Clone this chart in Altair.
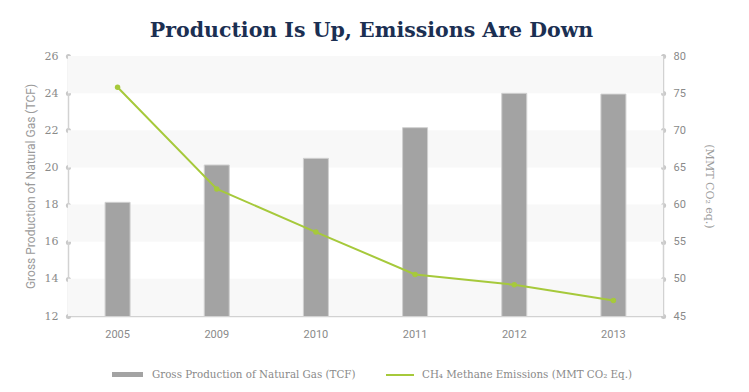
import altair as alt
import pandas as pd

years = ["2005", "2009", "2010", "2011", "2012", "2013"]
production = [18.12, 20.13, 20.49, 22.14, 23.99, 23.95]
methane = [75.8, 62.1, 56.3, 50.6, 49.2, 47.1]
band_starts = [12, 16, 20, 24]
band_size = 2
left_ticks = [12, 14, 16, 18, 20, 22, 24, 26]
right_ticks = [45, 50, 55, 60, 65, 70, 75, 80]

prod_name = "Gross Production of Natural Gas (TCF)"
meth_name = "CH\u2084 Methane Emissions (MMT CO\u2082 Eq.)"

df = pd.DataFrame({"year": years, "production": production, "methane": methane,
                   "s1": prod_name, "s2": meth_name})
bands = pd.DataFrame({"y0": band_starts, "y1": [b + band_size for b in band_starts]})

GRAY_BAR = "#a3a3a3"
GREEN = "#a6c93b"
AXIS_C = "#d2d2d2"
LABEL_C = "#8a8a8a"

xenc = alt.X("year:N", sort=years, title=None,
             scale=alt.Scale(paddingInner=0, paddingOuter=0),
             axis=alt.Axis(labelAngle=0, ticks=False, domainColor=AXIS_C, domainWidth=1.5,
                           labelColor=LABEL_C, labelFont="Roboto", labelFontSize=11,
                           labelPadding=12))

yscale = alt.Scale(domain=[12, 26], nice=False, zero=False)
left_axis = alt.Axis(values=left_ticks, grid=False,
                     domainColor=AXIS_C, domainWidth=1.5,
                     tickSize=0.1, tickWidth=5, tickCap="round", tickColor="#c8c8c8",
                     labelColor=LABEL_C, labelFont="DejaVu Serif", labelFontSize=11,
                     labelPadding=10,
                     title=prod_name, titleColor="#9a9a9a", titleFont="Roboto",
                     titleFontSize=12, titleFontWeight="normal",
                     titleX=-38, titleY=130, titleBaseline="middle", titleAngle=-90,
                     titleAlign="center")

band_layer = alt.Chart(bands).mark_rect(color="#f8f8f8").encode(
    y=alt.Y("y0:Q", scale=yscale, axis=left_axis),
    y2="y1:Q",
    x=alt.value(0), x2=alt.value(595),
)

bar_layer = alt.Chart(df).mark_bar(size=25, stroke="#d0d0d0", strokeWidth=1, clip=True).encode(
    x=xenc,
    y=alt.Y("production:Q", scale=yscale, axis=left_axis),
    fill=alt.Fill("s1:N", scale=alt.Scale(domain=[prod_name], range=[GRAY_BAR]),
                  legend=alt.Legend(title=None, orient="none", legendX=44, legendY=303,
                                    symbolType="M-1,-0.16L1,-0.16L1,0.16L-1,0.16Z",
                                    symbolSize=961, symbolStrokeWidth=0,
                                    labelFont="DejaVu Serif", labelFontSize=10.3,
                                    labelColor=LABEL_C, labelOffset=9, padding=0,
                                    labelLimit=400)),
)

y2scale = alt.Scale(domain=[45, 80], nice=False, zero=False)
right_axis = alt.Axis(orient="right", values=right_ticks, grid=False,
                      domainColor=AXIS_C, domainWidth=1.5,
                      tickSize=0.1, tickWidth=5, tickCap="round", tickColor="#c8c8c8",
                      labelColor=LABEL_C, labelFont="Roboto", labelFontSize=11,
                      labelPadding=10,
                      title="(MMT CO\u2082 eq.)", titleColor="#9a9a9a", titleFont="DejaVu Serif",
                      titleFontSize=11, titleFontWeight="normal",
                      titleX=45, titleY=130, titleBaseline="middle", titleAngle=90,
                      titleAlign="center")

line_layer = alt.Chart(df).mark_line(strokeWidth=2).encode(
    x=xenc,
    y=alt.Y("methane:Q", scale=y2scale, axis=right_axis),
    stroke=alt.Stroke("s2:N", scale=alt.Scale(domain=[meth_name], range=[GREEN]),
                      legend=alt.Legend(title=None, orient="none", legendX=317, legendY=304,
                                        symbolType="stroke", symbolSize=784,
                                        symbolStrokeWidth=2,
                                        labelFont="DejaVu Serif", labelFontSize=10.3,
                                        labelColor=LABEL_C, labelOffset=7, padding=0,
                                        labelLimit=400)),
)

point_layer = alt.Chart(df).mark_circle(size=30, color=GREEN, opacity=1).encode(
    x=xenc,
    y=alt.Y("methane:Q", scale=y2scale, axis=right_axis),
)

left = alt.layer(band_layer, bar_layer)
right = alt.layer(line_layer, point_layer)

chart = alt.layer(left, right).resolve_scale(y="independent").properties(
    width=595, height=260,
    autosize=alt.AutoSizeParams(type="none"),
    padding={"left": 60, "top": 48, "right": 70, "bottom": 68},
    title=alt.TitleParams("Production Is Up, Emissions Are Down", font="DejaVu Serif",
                          fontSize=20.5, fontWeight="bold", color="#1b2f52",
                          anchor="middle", offset=14, baseline="alphabetic", dx=6, dy=21),
).configure_view(stroke=None)

chart.save("out.html", embed_options={"renderer": "svg", "actions": False})
